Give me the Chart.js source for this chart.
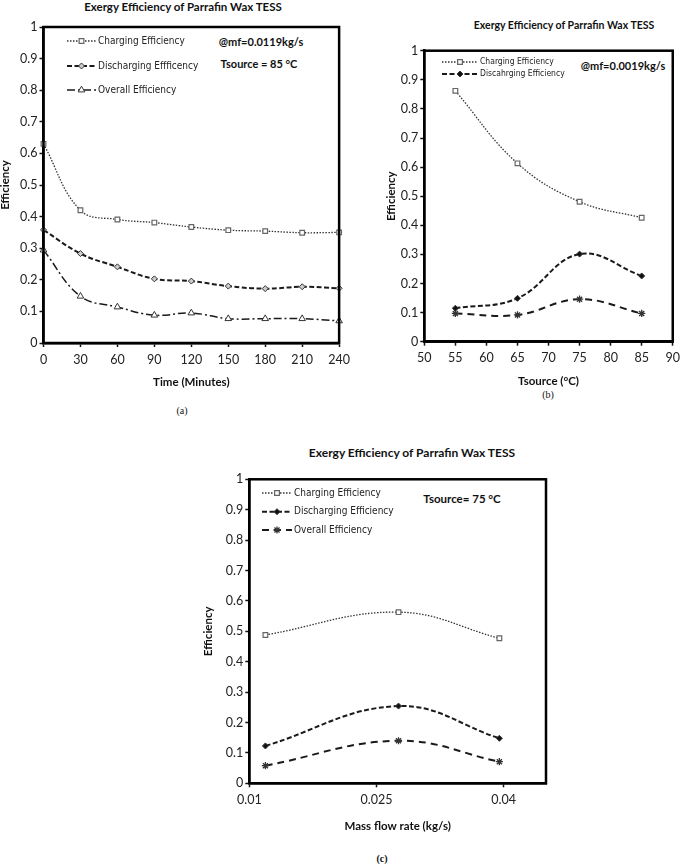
<!DOCTYPE html>
<html>
<head>
<meta charset="utf-8">
<script src="https://cdn.jsdelivr.net/npm/chart.js@4.4.0/dist/chart.umd.min.js"></script>
<style>
body { margin: 0; background: #fff; width: 685px; height: 865px; position: relative; overflow: hidden; font-family: Lato, 'Liberation Sans', sans-serif; }
canvas { position: absolute; }
.t { position: absolute; font-weight: bold; color: #111; white-space: nowrap; transform: translate(-50%, -50%); line-height: 1; }
.cap { position: absolute; font-family: 'Liberation Serif', serif; font-size: 10px; color: #111; transform: translate(-50%, -50%); line-height: 1; }
</style>
</head>
<body>
<div class="t" style="left:183px;top:7px;font-size:11.5px">Exergy Efficiency of Parrafin Wax TESS</div>
<div class="t" style="left:564px;top:25px;font-size:10.5px">Exergy Efficiency of Parrafin Wax TESS</div>
<div class="t" style="left:412px;top:453px;font-size:12px">Exergy Efficiency of Parrafin Wax TESS</div>

<div class="t" style="left:261px;top:41px;font-size:11px">@mf=0.0119kg/s</div>
<div class="t" style="left:259px;top:63px;font-size:11px">Tsource = 85 °C</div>
<div class="t" style="left:623px;top:65px;font-size:11px">@mf=0.0019kg/s</div>
<div class="t" style="left:462px;top:499px;font-size:11.5px">Tsource= 75 °C</div>

<div class="cap" style="left:182px;top:411px">(a)</div>
<div class="cap" style="left:548px;top:395px">(b)</div>
<div class="cap" style="left:382px;top:859px;font-weight:bold">(c)</div>

<canvas id="chartA" width="355" height="400" style="left:0;top:0"></canvas>
<canvas id="chartB" width="335" height="400" style="left:350px;top:0"></canvas>
<canvas id="chartC" width="380" height="425" style="left:180px;top:440px"></canvas>

<script>
// values
const yTicks = [0, 0.1, 0.2, 0.3, 0.4, 0.5, 0.6, 0.7, 0.8, 0.9, 1];

const timeMin = [0, 30, 60, 90, 120, 150, 180, 210, 240];
const chargeA = [0.63, 0.42, 0.391, 0.381, 0.367, 0.357, 0.354, 0.349, 0.35];
const dischargeA = [0.358, 0.283, 0.241, 0.203, 0.196, 0.18, 0.172, 0.178, 0.173];
const overallA = [0.294, 0.148, 0.114, 0.088, 0.095, 0.077, 0.077, 0.077, 0.07];
const xTicksA = [0, 30, 60, 90, 120, 150, 180, 210, 240];

const tsource = [55, 65, 75, 85];
const chargeB = [0.862, 0.613, 0.481, 0.426];
const dischargeB = [0.115, 0.149, 0.301, 0.226];
const overallB = [0.097, 0.092, 0.146, 0.097];
const xTicksB = [50, 55, 60, 65, 70, 75, 80, 85, 90];

const massFlow = [0.0119, 0.0276, 0.0395];
const chargeC = [0.488, 0.563, 0.477];
const dischargeC = [0.123, 0.254, 0.148];
const overallC = [0.058, 0.14, 0.071];
const xTicksC = [0.01, 0.025, 0.04];

const tickFont = { family: 'Lato', size: 12.5 };
const axisTitleFont = { family: 'Lato', size: 11.5, weight: 'bold', lineHeight: 1 };
const legendFont = "10px 'Liberation Sans Narrow', 'DejaVu Sans Condensed', sans-serif";

const fmt = v => String(+Number(v).toFixed(4));
const pts = (xs, ys) => xs.map((x, i) => ({ x: x, y: ys[i] }));

function drawMarker(ctx, ds, x, y) {
  const r = ds.pointRadius;
  ctx.save();
  ctx.setLineDash([]);
  ctx.fillStyle = ds.pointBackgroundColor;
  ctx.strokeStyle = ds.pointBorderColor;
  ctx.lineWidth = ds.pointBorderWidth;
  ctx.beginPath();
  if (ds.pointStyle === 'rect') {
    const s = r * 0.72;
    ctx.rect(x - s, y - s, 2 * s, 2 * s);
    ctx.fill(); ctx.stroke();
  } else if (ds.pointStyle === 'rectRot') {
    ctx.moveTo(x, y - r); ctx.lineTo(x + r, y); ctx.lineTo(x, y + r); ctx.lineTo(x - r, y); ctx.closePath();
    ctx.fill(); ctx.stroke();
  } else if (ds.pointStyle === 'triangle') {
    ctx.moveTo(x, y - r); ctx.lineTo(x + r * 0.87, y + r * 0.5); ctx.lineTo(x - r * 0.87, y + r * 0.5); ctx.closePath();
    ctx.fill(); ctx.stroke();
  } else {
    for (let k = 0; k < 4; k++) {
      const a = k * Math.PI / 4;
      ctx.moveTo(x - r * Math.cos(a), y - r * Math.sin(a));
      ctx.lineTo(x + r * Math.cos(a), y + r * Math.sin(a));
    }
    ctx.stroke();
  }
  ctx.restore();
}

const boxPlugin = {
  id: 'plotBox',
  afterDraw(chart) {
    const a = chart.chartArea, ctx = chart.ctx;
    ctx.save();
    ctx.strokeStyle = '#000';
    ctx.lineWidth = 2.5;
    ctx.strokeRect(a.left, a.top, a.right - a.left, a.bottom - a.top);
    ctx.restore();
  }
};

const legendPlugin = {
  id: 'innerLegend',
  afterDraw(chart, args, opts) {
    const ctx = chart.ctx;
    ctx.save();
    chart.data.datasets.forEach((ds, i) => {
      if (i >= opts.rows.length) return;
      const y = opts.rows[i];
      ctx.setLineDash(ds.borderDash || []);
      ctx.strokeStyle = ds.borderColor;
      ctx.lineWidth = ds.borderWidth;
      ctx.beginPath();
      ctx.moveTo(opts.x0, y);
      ctx.lineTo(opts.x1, y);
      ctx.stroke();
      drawMarker(ctx, ds, (opts.x0 + opts.x1) / 2, y);
      ctx.setLineDash([]);
      ctx.fillStyle = '#222';
      ctx.font = opts.font;
      ctx.textBaseline = 'middle';
      ctx.fillText(opts.labels[i], opts.x1 + 2, y);
    });
    ctx.restore();
  }
};

function chargeSet(xs, ys) {
  return {
    data: pts(xs, ys), borderColor: '#333', borderWidth: 1.3, borderDash: [1.5, 1.5],
    pointStyle: 'rect', pointRadius: 3.3, pointBackgroundColor: '#fff', pointBorderColor: '#666', pointBorderWidth: 1.2
  };
}
function dischargeSet(xs, ys, hollow) {
  return {
    data: pts(xs, ys), borderColor: '#1a1a1a', borderWidth: 2, borderDash: [5, 2.5],
    pointStyle: 'rectRot', pointRadius: 3,
    pointBackgroundColor: hollow ? '#ccc' : '#111', pointBorderColor: '#333', pointBorderWidth: 1
  };
}
function overallSet(xs, ys, tri) {
  if (tri) {
    return {
      data: pts(xs, ys), borderColor: '#1a1a1a', borderWidth: 1.5, borderDash: [8, 3, 2, 3],
      pointStyle: 'triangle', pointRadius: 3.8, pointBackgroundColor: '#fff', pointBorderColor: '#333', pointBorderWidth: 1
    };
  }
  return {
    data: pts(xs, ys), borderColor: '#1a1a1a', borderWidth: 2, borderDash: [7, 5],
    pointStyle: 'star', pointRadius: 3.6, pointBackgroundColor: '#333', pointBorderColor: '#333', pointBorderWidth: 1.3
  };
}

function makeChart(id, o) {
  const ctx = document.getElementById(id).getContext('2d');
  return new Chart(ctx, {
    type: 'line',
    data: { datasets: o.datasets.map(d => Object.assign({ tension: 0.4, fill: false, clip: false }, d)) },
    options: {
      responsive: false,
      animation: false,
      layout: { padding: o.padding },
      plugins: {
        legend: { display: false },
        tooltip: { enabled: false },
        innerLegend: o.legend
      },
      scales: {
        x: {
          type: 'linear', min: o.xMin, max: o.xMax,
          afterFit(s) { s.height = o.xHeight; },
          afterBuildTicks(s) { s.ticks = o.xTicks.map(v => ({ value: v })); },
          ticks: { color: '#222', font: tickFont, padding: 5, autoSkip: false, maxRotation: 0, callback: v => fmt(v) },
          grid: { display: true, drawOnChartArea: false, drawTicks: true, tickLength: 4, tickWidth: 1.5, tickColor: '#111' },
          border: { display: true, color: '#000', width: 2.5 },
          title: { display: true, text: o.xTitle, color: '#111', font: axisTitleFont, padding: 0 }
        },
        y: {
          min: 0, max: 1,
          afterFit(s) { s.width = o.yWidth; },
          afterBuildTicks(s) { s.ticks = yTicks.map(v => ({ value: v })); },
          ticks: { color: '#222', font: tickFont, padding: 2, callback: v => fmt(v) },
          grid: { display: true, drawOnChartArea: false, drawTicks: true, tickLength: 4, tickWidth: 1.5, tickColor: '#111' },
          border: { display: true, color: '#000', width: 2.5 },
          title: { display: true, text: 'Efficiency', color: '#111', font: axisTitleFont, padding: 0 }
        }
      }
    },
    plugins: [boxPlugin, legendPlugin]
  });
}

makeChart('chartA', {
  datasets: [chargeSet(timeMin, chargeA), dischargeSet(timeMin, dischargeA, true), overallSet(timeMin, overallA, true)],
  padding: { left: 0, top: 27, right: 7, bottom: 12 },
  yWidth: 43.5, xHeight: 45,
  xMin: 0, xMax: 240, xTicks: xTicksA, xTitle: 'Time (Minutes)',
  legend: { x0: 67, x1: 96, rows: [41, 66, 90], font: legendFont,
            labels: ['Charging Efficiency', 'Discharging Effficency', 'Overall Efficiency'] }
});

makeChart('chartB', {
  datasets: [chargeSet(tsource, chargeB), dischargeSet(tsource, dischargeB, false), overallSet(tsource, overallB, false)],
  padding: { left: 36, top: 50.7, right: 5.7, bottom: 12.5 },
  yWidth: 38.3, xHeight: 45.8,
  xMin: 50, xMax: 90, xTicks: xTicksB, xTitle: 'Tsource (°C)',
  legend: { x0: 92, x1: 128, rows: [62, 74], font: "8.5px 'Liberation Sans Narrow', 'DejaVu Sans Condensed', sans-serif",
            labels: ['Charging Efficiency', 'Discahrging Efficiency'] }
});

makeChart('chartC', {
  datasets: [chargeSet(massFlow, chargeC), dischargeSet(massFlow, dischargeC, false), overallSet(massFlow, overallC, false)],
  padding: { left: 22.5, top: 39.3, right: 14, bottom: 32.8 },
  yWidth: 46.8, xHeight: 48.9,
  xMin: 0.01, xMax: 0.045, xTicks: xTicksC, xTitle: 'Mass flow rate (kg/s)',
  legend: { x0: 82, x1: 112, rows: [53, 71.7, 90], font: legendFont,
            labels: ['Charging Efficiency', 'Discharging Efficiency', 'Overall Efficiency'] }
});
</script>
</body>
</html>
